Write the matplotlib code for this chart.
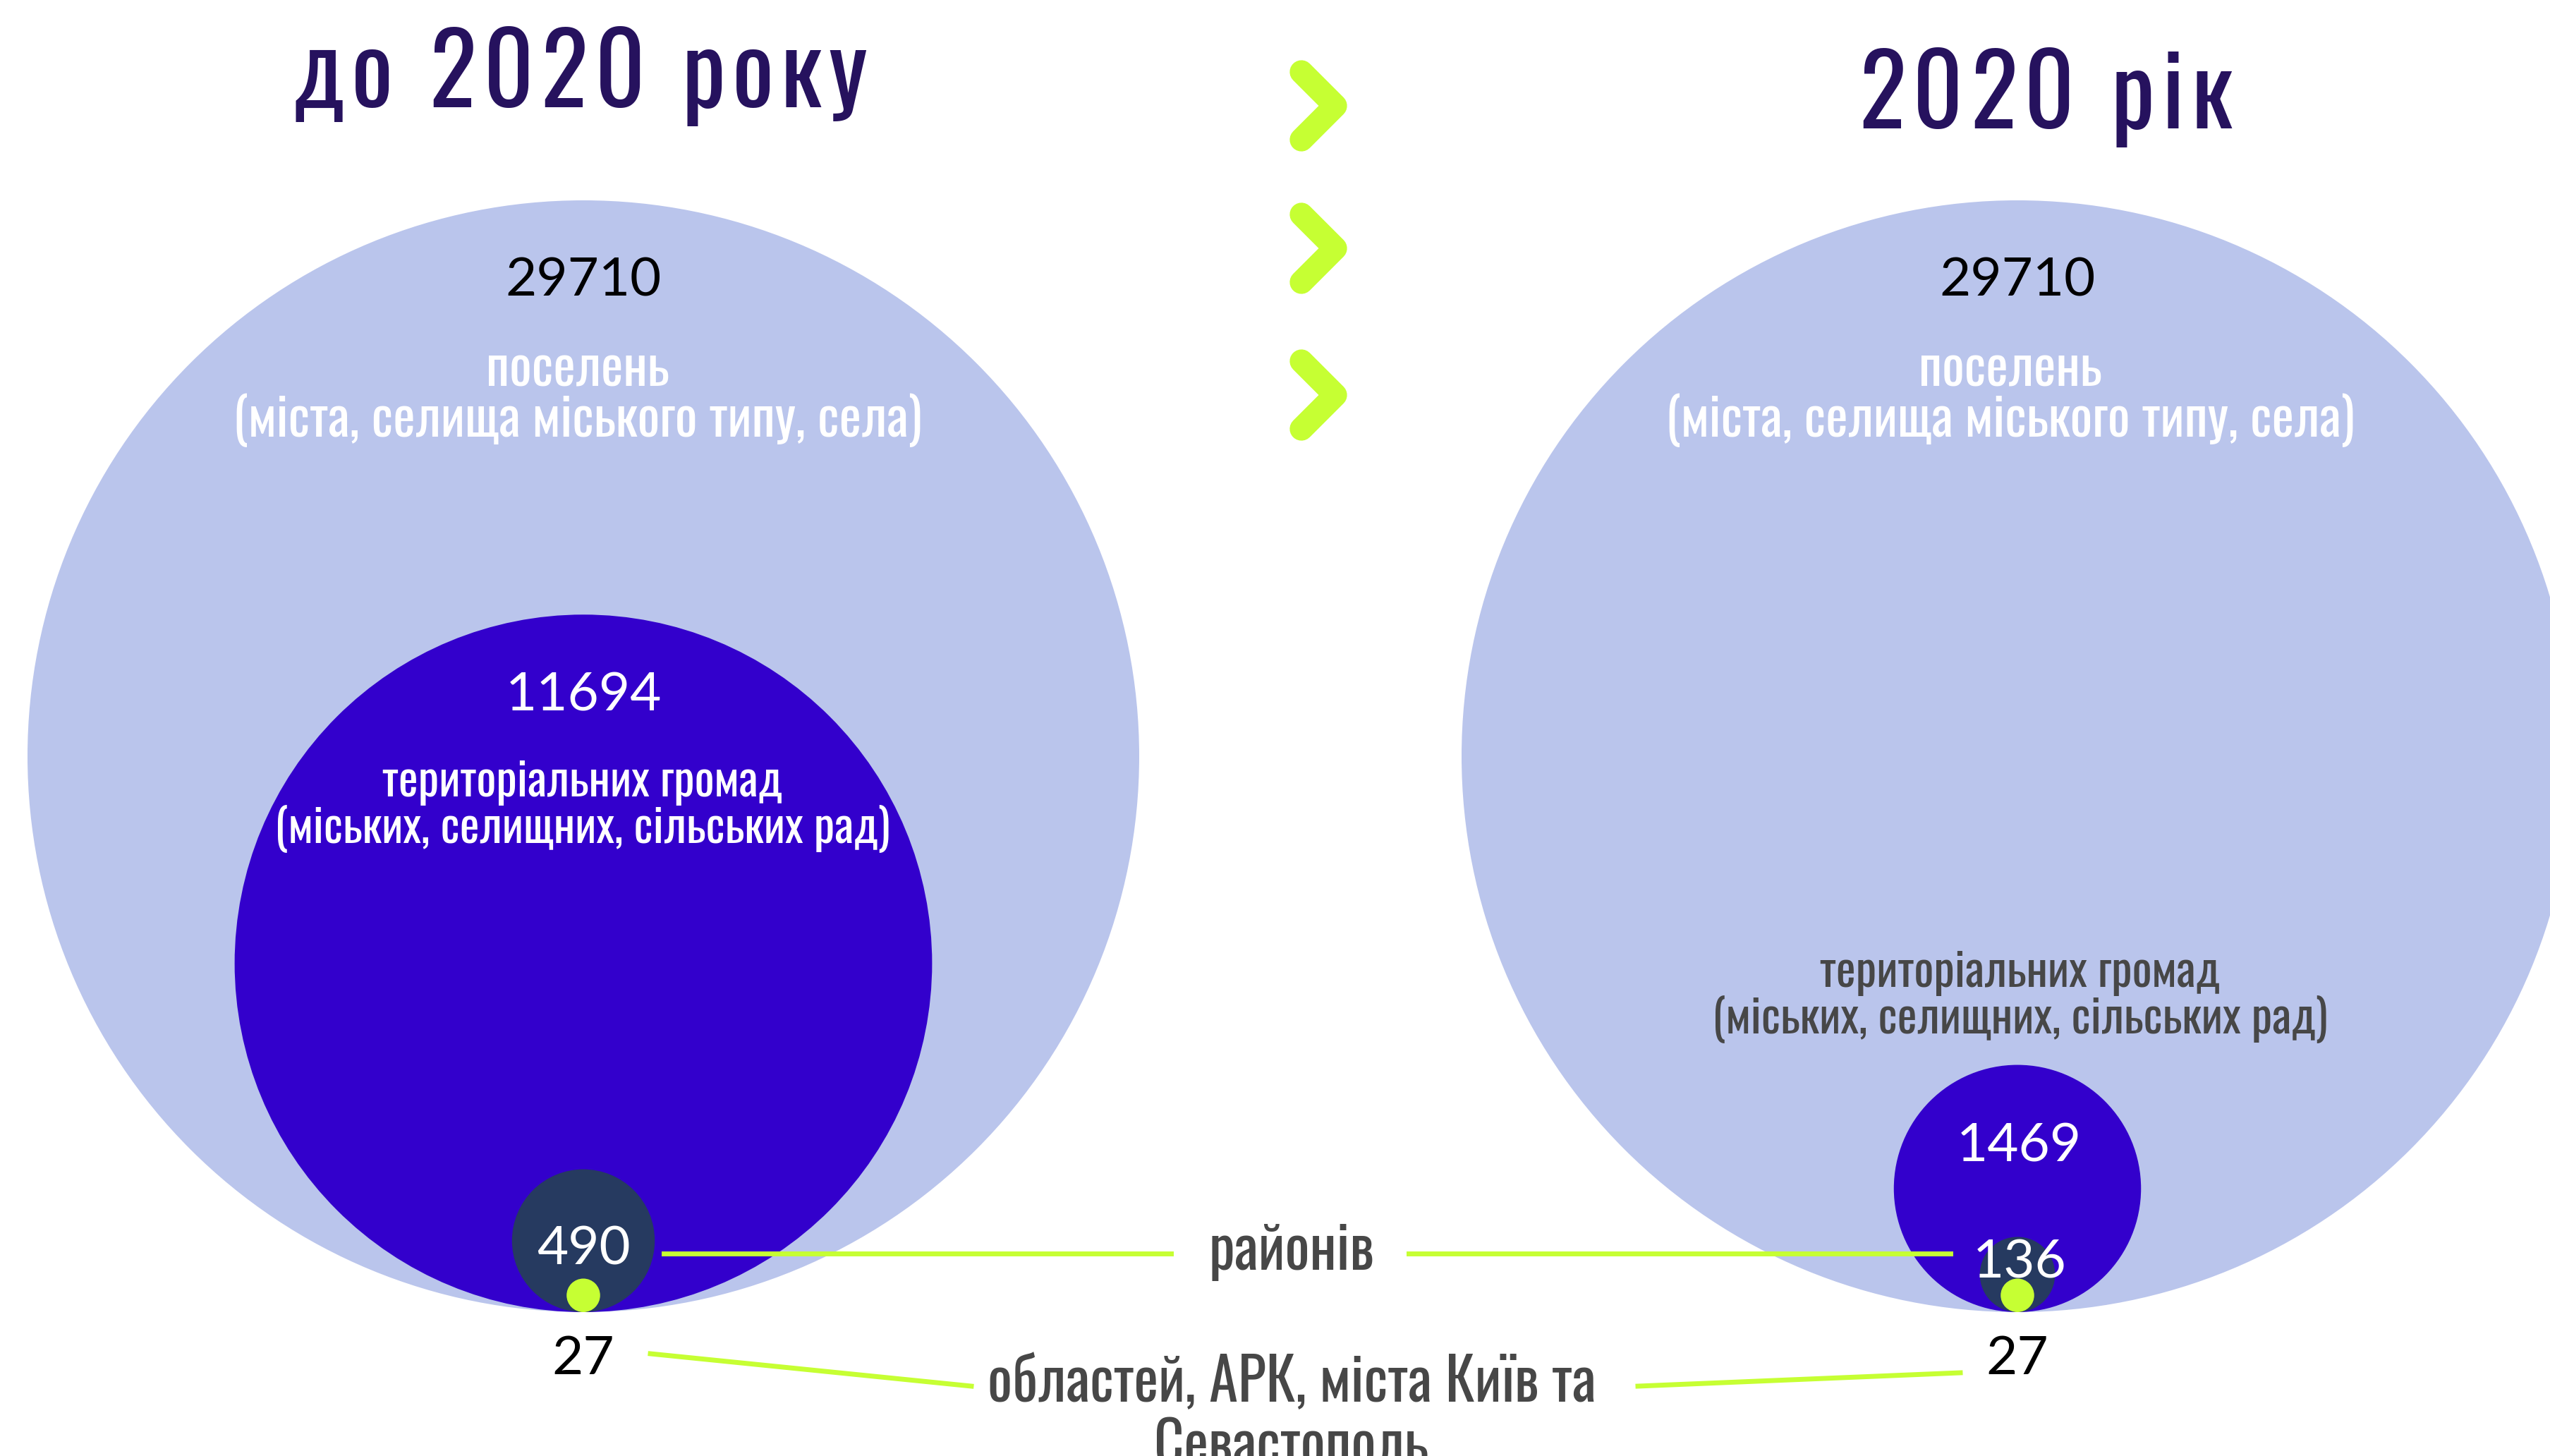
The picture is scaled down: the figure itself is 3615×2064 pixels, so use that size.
import numpy as np
import matplotlib
matplotlib.use("Agg")
import matplotlib.pyplot as plt
from matplotlib.patches import Circle
from matplotlib.font_manager import FontProperties
from matplotlib.textpath import TextToPath

# data
years = ["до 2020 року", "2020 рік"]
settlements = [29710, 29710]
hromadas = [11694, 1469]
districts = [490, 136]
regions = [27, 27]

lbl_settl = ["поселень", "(міста, селища міського типу, села)"]
lbl_hrom = ["територіальних громад", "(міських, селищних, сільських рад)"]
lbl_distr = "районів"
lbl_reg = ["областей, АРК, міста Київ та", "Севастополь"]

COND = ["Oswald", "Fira Sans Extra Condensed", "DejaVu Sans"]
NUM = ["Lato", "DejaVu Sans"]

C_BIG = "#bac5ec"
C_MID = "#3300cc"
C_SMALL = "#263a60"
C_GREEN = "#c6ff33"
C_TITLE = "#26125e"
C_GREY = "#474747"

W, H = 3616, 2064
fig = plt.figure(figsize=(W / 100, H / 100), dpi=100)
ax = fig.add_axes([0, 0, 1, 1])
ax.set_xlim(0, W)
ax.set_ylim(H, 0)
ax.axis("off")
renderer = fig.canvas.get_renderer()
t2p = TextToPath()

cx = [827, 2860]
base = 1860
R = 788

def rad(v):
    return R * np.sqrt(v / settlements[0])

for i in range(2):
    for v, c in [(settlements[i], C_BIG), (hromadas[i], C_MID), (districts[i], C_SMALL), (regions[i], C_GREEN)]:
        r = rad(v)
        ax.add_patch(Circle((cx[i], base - r), r, color=c, lw=0))


def size_for_width(s, target, fam=COND):
    t = ax.text(0, 0, s, fontsize=50, family=fam)
    w = t.get_window_extent(renderer).width
    t.remove()
    return 50 * target / w


def title(s, x0, x1, yb, digit_px):
    fp = FontProperties(family=COND)
    h = t2p.get_text_path(FontProperties(family=COND, size=100), "2")
    hh = np.ptp(np.array(h[0])[:, 1]) if len(h[0]) else 72
    size = digit_px * 0.72 * 100 / hh
    fp.set_size(size)
    advs = [t2p.get_text_width_height_descent(ch, fp, ismath=False)[0] * 100 / 72 for ch in s]
    track = (x1 - x0 - sum(advs)) / (len(s) - 1)
    x = x0
    for ch, a in zip(s, advs):
        if ch != " ":
            ax.text(x, yb, ch, fontsize=size, family=COND, color=C_TITLE, ha="left", va="baseline")
        x += a + track


title(years[0], 415, 1229, 152, 114)
title(years[1], 2635, 3164, 182, 114)

# chevrons
for yc in [150, 352, 560]:
    ax.plot([1845, 1893, 1845], [yc - 48, yc, yc + 48], color=C_GREEN, lw=24,
            solid_capstyle="round", solid_joinstyle="round")

fs_settl = size_for_width(lbl_settl[1], 978)
fs_hrom = size_for_width(lbl_hrom[1], 872)
fs_reg = size_for_width(lbl_reg[0], 862)

for i, xs in enumerate([819, 2850]):
    ax.text(xs, 547, lbl_settl[0], ha="center", va="baseline", fontsize=fs_settl, color="white", family=COND)
    ax.text(xs, 619, lbl_settl[1], ha="center", va="baseline", fontsize=fs_settl, color="white", family=COND)

ax.text(826, 1129, lbl_hrom[0], ha="center", va="baseline", fontsize=fs_hrom, color="white", family=COND)
ax.text(826, 1195, lbl_hrom[1], ha="center", va="baseline", fontsize=fs_hrom, color="white", family=COND)
ax.text(2864, 1399, lbl_hrom[0], ha="center", va="baseline", fontsize=fs_hrom, color=C_GREY, family=COND)
ax.text(2864, 1465, lbl_hrom[1], ha="center", va="baseline", fontsize=fs_hrom, color=C_GREY, family=COND)

# numbers
num_pos = [
    [(cx[0], 398, settlements[0], "black"), (cx[0], 986, hromadas[0], "white"),
     (cx[0], 1771, districts[0], "white"), (cx[0], 1926, regions[0], "black")],
    [(cx[1], 398, settlements[1], "black"), (2862, 1625, hromadas[1], "white"),
     (2863, 1790, districts[1], "white"), (cx[1], 1926, regions[1], "black")],
]
for grp in num_pos:
    for x, y, v, c in grp:
        ax.text(x, y, f"{v}", ha="center", va="center", fontsize=55, color=c, family=NUM)

# connectors
ax.plot([941, 1660], [1777, 1777], color=C_GREEN, lw=5)
ax.plot([1997, 2765], [1777, 1777], color=C_GREEN, lw=5)
ax.text(1831, 1800, lbl_distr, ha="center", va="baseline", fontsize=fs_reg, color=C_GREY, family=COND)

ax.plot([922, 1377], [1919, 1965], color=C_GREEN, lw=5)
ax.plot([2322, 2779], [1965, 1946], color=C_GREEN, lw=5)
ax.text(1831, 1987, lbl_reg[0], ha="center", va="baseline", fontsize=fs_reg, color=C_GREY, family=COND)
ax.text(1831, 2077, lbl_reg[1], ha="center", va="baseline", fontsize=fs_reg, color=C_GREY, family=COND)

fig.savefig("out.png", dpi=100)
